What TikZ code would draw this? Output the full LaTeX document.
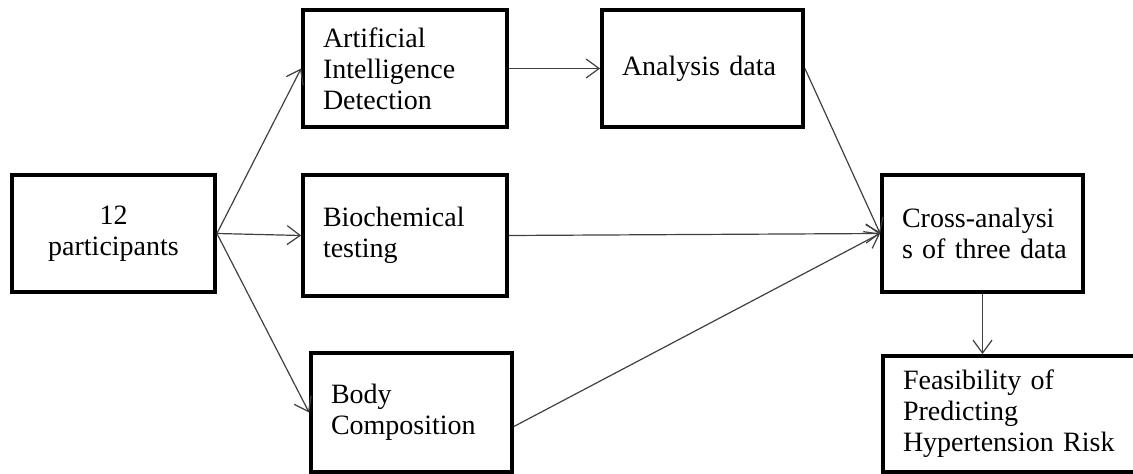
\documentclass[tikz,border=0pt]{standalone}
\usepackage{fontspec}
\setmainfont{Liberation Serif}
\usetikzlibrary{arrows.meta}
\begin{document}
\begin{tikzpicture}[x=1pt,y=1pt,
  box/.style={draw=black, line width=3.8pt, fill=white, inner xsep=20pt, inner ysep=0pt, align=left, font=\fontsize{28}{31}\selectfont, anchor=center},
  conn/.style={draw=black!75, line width=1.2pt, -{Straight Barb[length=13pt,width=19pt]}}]
\useasboundingbox (0,0) rectangle (1133,474);
\clip (0,0) rectangle (1133,474);
\node[box, minimum width=203pt, minimum height=117pt, text width=163pt, align=center] (P) at (113.5,240.5) {12\\participants};
\node[box, minimum width=204pt, minimum height=117pt, text width=164pt] (AI) at (405,405.5) {Artificial\\Intelligence\\Detection};
\node[box, minimum width=201pt, minimum height=117pt, text width=161pt] (AN) at (702.5,405.5) {Analysis data};
\node[box, minimum width=204pt, minimum height=121pt, text width=164pt] (BT) at (405,238.5) {Biochemical\\testing};
\node[box, minimum width=201pt, minimum height=119pt, text width=161pt] (BC) at (411.5,61.5) {Body\\Composition};
\node[box, minimum width=201pt, minimum height=117pt, text width=161pt] (CR) at (982.5,240.5) {\mbox{Cross-analysi}\\\mbox{s of three data}};
\node[box, minimum width=262pt, minimum height=116pt, text width=222pt] (FE) at (1014,60) {Feasibility of\\Predicting\\\mbox{Hypertension Risk}};
\draw[conn] (P.east) -- (AI.west);
\draw[conn] (P.east) -- (BT.west);
\draw[conn] (P.east) -- (BC.west);
\draw[conn] (AI.east) -- (AN.west);
\draw[conn] (AN.east) -- (CR.west);
\draw[conn] (BT.east) -- (CR.west);
\draw[conn] ([yshift=-14pt]BC.east) -- (CR.west);
\draw[conn] (CR.south) -- (CR.south |- FE.north);
\end{tikzpicture}
\end{document}
